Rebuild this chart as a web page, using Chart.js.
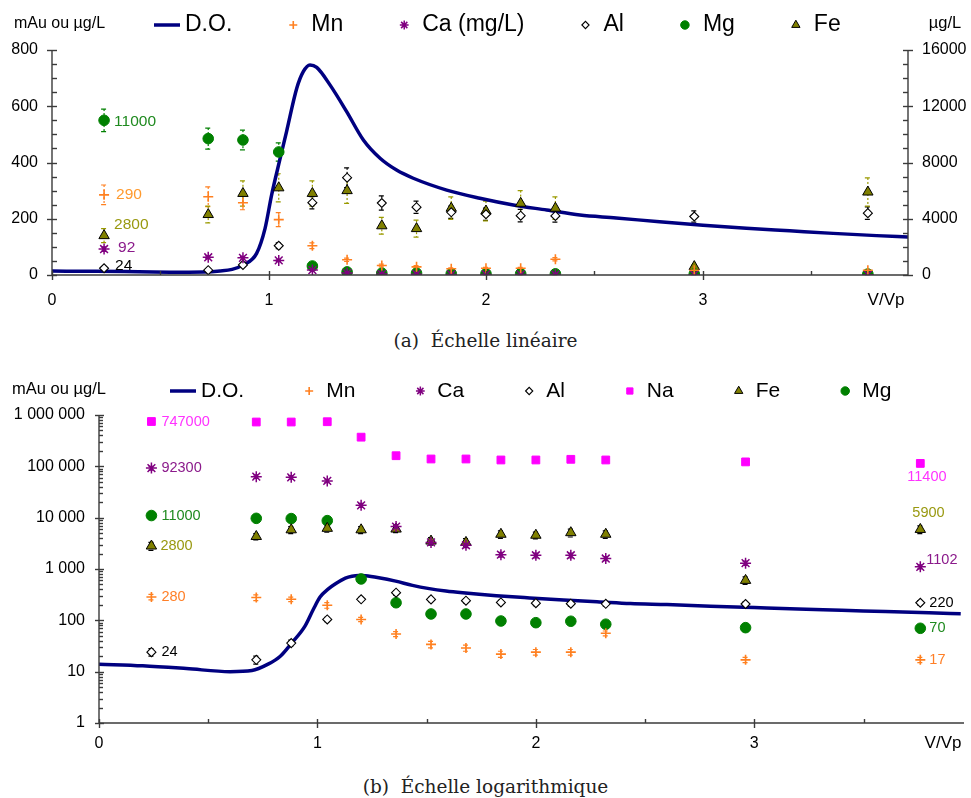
<!DOCTYPE html>
<html><head><meta charset="utf-8">
<script src="https://cdn.jsdelivr.net/npm/chart.js@4.4.0/dist/chart.umd.min.js"></script>
<style>
html,body{margin:0;padding:0;background:#fff;width:971px;height:798px;overflow:hidden;}
#w1{position:absolute;left:0;top:0;width:971px;height:310px;}
#w2{position:absolute;left:0;top:370px;width:971px;height:395px;}
.cap{position:absolute;left:0;width:971px;text-align:center;font-family:"DejaVu Serif",serif;font-size:18.5px;line-height:22px;color:#222;white-space:pre;}
</style></head><body>
<div id="w1"><canvas id="c1"></canvas></div>
<div class="cap" style="top:330px">(a)  Échelle linéaire</div>
<div id="w2"><canvas id="c2"></canvas></div>
<div class="cap" style="top:776px">(b)  Échelle logarithmique</div>
<script>
// ---------- DATA ----------
const vVp = [0.24, 0.72, 0.88, 1.045, 1.2, 1.36, 1.52, 1.68, 1.84, 2.0, 2.16, 2.32, 2.96, 3.76];
const mn = [285, 278, 257, 197, 104, 54, 34, 29, 22, 24, 24, 56, 17, 17];            // µg/L
const ca = [92300, 63000, 61000, 52000, 17400, 6700, 3300, 2900, 1900, 1850, 1850, 1600, 1300, 1102]; // µg/L
const al = [24, 17, 36, 104, 257, 346, 256, 241, 223, 216, 211, 210, 208, 220];       // µg/L
const mg = [11000, 9700, 9600, 8750, 640, 220, 133, 133, 97, 90, 96, 84, 72, 70];     // µg/L
const fe = [2800, 4300, 5800, 6200, 5800, 6000, 3500, 3300, 4750, 4550, 5100, 4750, 600, 5900]; // µg/L
const na = [747000, 730000, 730000, 740000, 370000, 161000, 139000, 139000, 133000, 133000, 137000, 133000, 122000, 114000]; // µg/L
// uncertainty (µg/L)
const mnErr = [35, 35, 25, 25, 10, 6, 5, 4, 3, 3, 3, 6, 2, 2];
const caErr = [8000, 5000, 5000, 4000, 1500, 600, 300, 300, 200, 200, 200, 150, 120, 100];
const alErr = [4, 3, 5, 10, 22, 35, 25, 22, 22, 22, 22, 22, 20, 22];
const mgErr = [800, 750, 700, 650, 60, 20, 12, 12, 9, 8, 9, 8, 7, 7];
const feErr = [500, 600, 900, 1000, 900, 900, 600, 600, 800, 700, 900, 800, 100, 1000];
// D.O. (mAu) absorbance trace
const doX = [0, 0.2, 0.4, 0.6, 0.7, 0.774, 0.83, 0.882, 0.943, 0.982, 1.012, 1.05, 1.081, 1.128, 1.158, 1.189, 1.22, 1.281, 1.358, 1.435, 1.512, 1.588, 1.665, 1.819, 1.972, 2.126, 2.28, 2.433, 2.6, 2.8, 3.0, 3.2, 3.4, 3.6, 3.8, 3.945];
const doY = [14, 13, 11.5, 10, 10.5, 14, 20, 36, 77, 166, 284, 410, 510, 664, 723, 747, 738, 676, 581, 480, 415, 373, 344, 302, 273, 249, 231, 213, 203, 189, 177, 166, 157, 148, 140, 135];
// tick labels
const xTickVals = [0, 1, 2, 3];
const logTickVals = [1, 10, 100, 1000, 10000, 100000, 1000000];

// ---------- helpers ----------
const H = Chart.helpers;
const SANS = '"Liberation Sans", Arial, sans-serif';
Chart.defaults.font.family = SANS;
Chart.defaults.color = '#000';
const pts = (ys, f) => vVp.map((x, i) => ({x, y: f ? ys[i] / f : ys[i]}));
const doPts = doX.map((x, i) => ({x, y: doY[i]}));
const fmtSpace = v => String(v).replace(/\B(?=(\d{3})+(?!\d))/g, ' ');

const C = {do:'#000080', mn:'#ff8020', ca:'#800080', al:'#000000', mg:'#008000', fe:'#808000', na:'#ff00ff'};

function doDs() {
  return {label:'D.O.', data:doPts, showLine:true, borderColor:C.do, backgroundColor:C.do, borderWidth:3.5,
          pointRadius:0, cubicInterpolationMode:'monotone', yAxisID:'y', order:10, isLine:true};
}
function mk(label, data, style, opts) {
  return Object.assign({label, data, pointStyle:style, showLine:false, order:1}, opts);
}

// ---------- plugins ----------
const errorBars = {
  id:'errorBars',
  beforeDatasetsDraw(chart) {
    const ctx = chart.ctx;
    chart.data.datasets.forEach((ds, di) => {
      if (!ds.errs) return;
      const meta = chart.getDatasetMeta(di);
      const ys = chart.scales[meta.yAxisID];
      ctx.save();
      ctx.strokeStyle = ds.errColor; ctx.lineWidth = 1.2;
      ds.data.forEach((p, i) => {
        const e = ds.errs[i]; if (!e) return;
        const el = meta.data[i];
        const x = el.x;
        const lo = Math.max(p.y - e, ys.min > 0 ? ys.min : 0.0001);
        const y1 = ys.getPixelForValue(p.y + e), y2 = ys.getPixelForValue(lo);
        ctx.setLineDash([2, 2]);
        ctx.beginPath(); ctx.moveTo(x, y1); ctx.lineTo(x, y2); ctx.stroke();
        ctx.setLineDash([]);
        ctx.beginPath();
        ctx.moveTo(x - 3, y1); ctx.lineTo(x + 2, y1);
        ctx.moveTo(x - 3, y2); ctx.lineTo(x + 2, y2);
        ctx.stroke();
      });
      ctx.restore();
    });
  }
};

const axisMarks = {
  id:'axisMarks',
  afterDraw(chart) {
    const o = chart.options.plugins.axisMarks;
    const ctx = chart.ctx, a = chart.chartArea;
    ctx.save();
    ctx.strokeStyle = '#3a3a3a'; ctx.lineWidth = 1.4;
    const ln = (x1, y1, x2, y2) => { ctx.beginPath(); ctx.moveTo(x1, y1); ctx.lineTo(x2, y2); ctx.stroke(); };
    const xs = chart.scales.x;
    ln(a.left, a.bottom, a.right, a.bottom);
    for (let v = 0; v <= xs.max; v += 1) { const p = Math.round(xs.getPixelForValue(v)) + 0.5; ln(p, a.bottom - 4, p, a.bottom + 5); }
    for (let v = 0.5; v <= xs.max; v += 1) { const p = Math.round(xs.getPixelForValue(v)) + 0.5; ln(p, a.bottom - 4, p, a.bottom); }
    const ys = chart.scales.y;
    ln(a.left, a.top, a.left, a.bottom);
    if (o.log) {
      for (let d = 1; d <= 1e6; d *= 10) {
        const p = Math.round(ys.getPixelForValue(d)) + 0.5; ln(a.left - 4, p, a.left + 5, p);
        if (d < 1e6) for (let k = 2; k <= 9; k++) { const q = Math.round(ys.getPixelForValue(d * k)) + 0.5; ln(a.left, q, a.left + 4, q); }
      }
    } else {
      for (let v = 0; v <= ys.max; v += o.yMinor) {
        const p = Math.round(ys.getPixelForValue(v)) + 0.5;
        if (v % o.yMajor === 0) ln(a.left - 5, p, a.left + 5, p); else ln(a.left, p, a.left + 5, p);
      }
    }
    if (chart.scales.y2) {
      const y2 = chart.scales.y2;
      ln(a.right, a.top, a.right, a.bottom);
      for (let v = 0; v <= y2.max; v += o.y2Minor) {
        const p = Math.round(y2.getPixelForValue(v)) + 0.5;
        if (v % o.y2Major === 0) ln(a.right - 5, p, a.right + 5, p); else ln(a.right - 5, p, a.right, p);
      }
    }
    // texts
    ctx.fillStyle = '#000'; ctx.textBaseline = 'middle';
    o.texts.forEach(t => { ctx.font = t.size + 'px ' + SANS; ctx.textAlign = t.align; ctx.fillText(t.text, t.x, t.y); });
    ctx.restore();
  }
};

const customLegend = {
  id:'customLegend',
  afterDraw(chart) {
    const o = chart.options.plugins.customLegend;
    const ctx = chart.ctx;
    ctx.save();
    ctx.font = o.size + 'px ' + SANS;
    ctx.textBaseline = 'middle'; ctx.textAlign = 'left';
    let end = o.x;
    chart.data.datasets.forEach((ds, di) => {
      if (ds.isLine) {
        ctx.strokeStyle = ds.borderColor; ctx.lineWidth = 3.5;
        ctx.beginPath(); ctx.moveTo(o.x, o.y); ctx.lineTo(o.x + 26, o.y); ctx.stroke();
        ctx.fillStyle = '#000';
        ctx.fillText(ds.label, o.x + 31, o.y);
        end = o.x + 31 + ctx.measureText(ds.label).width;
      } else {
        const cx = end + o.gap;
        ctx.fillStyle = ds.backgroundColor; ctx.strokeStyle = ds.borderColor; ctx.lineWidth = ds.borderWidth;
        H.drawPoint(ctx, {pointStyle: ds.pointStyle, radius: ds.pointRadius * 0.8, rotation: 0, borderWidth: ds.borderWidth}, cx, o.y);
        ctx.fillStyle = '#000';
        ctx.fillText(ds.label, cx + o.mgap, o.y);
        end = cx + o.mgap + ctx.measureText(ds.label).width;
      }
    });
    ctx.restore();
  }
};

const pointNotes = {
  id:'pointNotes',
  afterDatasetsDraw(chart) {
    const o = chart.options.plugins.pointNotes;
    const ctx = chart.ctx;
    ctx.save();
    ctx.font = o.size + 'px ' + SANS; ctx.textBaseline = 'middle';
    o.items.forEach(it => {
      const el = chart.getDatasetMeta(it.ds).data[it.i];
      ctx.fillStyle = it.color; ctx.textAlign = it.align || 'left';
      ctx.fillText(it.text, el.x + it.dx, el.y + it.dy);
    });
    ctx.restore();
  }
};

const noGrid = {display:false, drawTicks:false};
const tickFont = {size:16};

// ---------- chart (a) linear ----------
new Chart(document.getElementById('c1'), {
  type:'scatter',
  data:{datasets:[
    doDs(),
    mk('Mn', pts(mn), 'cross', {borderColor:C.mn, backgroundColor:C.mn, borderWidth:1.6, pointRadius:5, yAxisID:'y', errs:mnErr, errColor:C.mn}),
    mk('Ca (mg/L)', pts(ca, 1000), 'star', {borderColor:C.ca, backgroundColor:C.ca, borderWidth:1.5, pointRadius:5.5, yAxisID:'y', errs:caErr.map(e => e / 1000), errColor:C.ca}),
    mk('Al', pts(al), 'rectRot', {borderColor:'#000', backgroundColor:'#fff', borderWidth:1.1, pointRadius:4.5, yAxisID:'y', errs:alErr, errColor:'#000'}),
    mk('Mg', pts(mg), 'circle', {borderColor:C.mg, backgroundColor:C.mg, borderWidth:1, pointRadius:5.3, yAxisID:'y2', errs:mgErr, errColor:C.mg}),
    mk('Fe', pts(fe), 'triangle', {borderColor:'#000', backgroundColor:C.fe, borderWidth:1, pointRadius:6, yAxisID:'y2', errs:feErr, errColor:'#9a9a00'})
  ]},
  options:{
    responsive:true, maintainAspectRatio:false, animation:false, events:[],
    layout:{padding:{top:50, left:0, right:0, bottom:0}},
    scales:{
      x:{type:'linear', min:0, max:3.945, grid:noGrid, border:{display:false},
         afterBuildTicks:s => { s.ticks = xTickVals.map(v => ({value:v})); },
         afterFit:s => { s.height = 35; },
         ticks:{font:tickFont, padding:16, maxRotation:0, autoSkip:false, callback:v => String(v)}},
      y:{type:'linear', position:'left', min:0, max:800, grid:noGrid, border:{display:false},
         afterFit:s => { s.width = 52; },
         ticks:{font:tickFont, stepSize:200, padding:14, callback:v => String(v)}},
      y2:{type:'linear', position:'right', min:0, max:16000, grid:noGrid, border:{display:false},
         afterFit:s => { s.width = 63; },
         ticks:{font:tickFont, stepSize:4000, padding:14, callback:v => String(v)}}
    },
    plugins:{
      legend:{display:false}, tooltip:{enabled:false},
      axisMarks:{log:false, yMajor:200, yMinor:50, y2Major:4000, y2Minor:1000,
        texts:[{text:'mAu ou µg/L', x:14, y:24, size:16, align:'left'},
               {text:'µg/L', x:945, y:23, size:16.5, align:'center'},
               {text:'V/Vp', x:886, y:300, size:17, align:'center'}]},
      customLegend:{x:154, y:25, size:23, gap:61, mgap:18},
      pointNotes:{size:15.5, items:[
        {ds:4, i:0, text:'11000', dx:10, dy:1, color:'#1f8a1f'},
        {ds:1, i:0, text:'290', dx:12, dy:0, color:'#ff9a2e'},
        {ds:5, i:0, text:'2800', dx:10, dy:-11, color:'#999910'},
        {ds:2, i:0, text:'92', dx:14, dy:-1, color:'#8b1a8b'},
        {ds:3, i:0, text:'24', dx:11, dy:-3, color:'#000'}
      ]}
    }
  },
  plugins:[errorBars, axisMarks, customLegend, pointNotes]
});

// ---------- chart (b) logarithmic ----------
new Chart(document.getElementById('c2'), {
  type:'scatter',
  data:{datasets:[
    doDs(),
    mk('Mn', pts(mn), 'cross', {borderColor:C.mn, backgroundColor:C.mn, borderWidth:1.6, pointRadius:5, yAxisID:'y', errs:mnErr, errColor:C.mn}),
    mk('Ca', pts(ca), 'star', {borderColor:C.ca, backgroundColor:C.ca, borderWidth:1.5, pointRadius:5.5, yAxisID:'y', errs:caErr, errColor:C.ca}),
    mk('Al', pts(al), 'rectRot', {borderColor:'#000', backgroundColor:'#fff', borderWidth:1.1, pointRadius:4.5, yAxisID:'y', errs:alErr, errColor:'#000'}),
    mk('Na', pts(na), 'rect', {borderColor:C.na, backgroundColor:C.na, borderWidth:1, pointRadius:5.5, yAxisID:'y'}),
    mk('Fe', pts(fe), 'triangle', {borderColor:'#000', backgroundColor:C.fe, borderWidth:1, pointRadius:6, yAxisID:'y', errs:feErr, errColor:'#000'}),
    mk('Mg', pts(mg), 'circle', {borderColor:C.mg, backgroundColor:C.mg, borderWidth:1, pointRadius:5.3, yAxisID:'y'})
  ]},
  options:{
    responsive:true, maintainAspectRatio:false, animation:false, events:[],
    layout:{padding:{top:45, left:0, right:3, bottom:0}},
    scales:{
      x:{type:'linear', min:0, max:3.96, grid:noGrid, border:{display:false},
         afterBuildTicks:s => { s.ticks = xTickVals.map(v => ({value:v})); },
         afterFit:s => { s.height = 42; },
         ticks:{font:tickFont, padding:11, maxRotation:0, autoSkip:false, callback:v => String(v)}},
      y:{type:'logarithmic', position:'left', min:1, max:1000000, grid:noGrid, border:{display:false},
         afterBuildTicks:s => { s.ticks = logTickVals.map(v => ({value:v})); },
         afterFit:s => { s.width = 99; },
         ticks:{font:tickFont, padding:14, autoSkip:false, callback:v => fmtSpace(v)}}
    },
    plugins:{
      legend:{display:false}, tooltip:{enabled:false},
      axisMarks:{log:true,
        texts:[{text:'mAu ou µg/L', x:12, y:19, size:16.5, align:'left'},
               {text:'V/Vp', x:943, y:373, size:17, align:'center'}]},
      customLegend:{x:170, y:21, size:21, gap:65, mgap:17},
      pointNotes:{size:14.5, items:[
        {ds:4, i:0, text:'747000', dx:10, dy:0, color:'#ff33ff'},
        {ds:2, i:0, text:'92300', dx:10, dy:0, color:'#8b1a8b'},
        {ds:6, i:0, text:'11000', dx:10, dy:0, color:'#1f8a1f'},
        {ds:5, i:0, text:'2800', dx:9, dy:0, color:'#999910'},
        {ds:1, i:0, text:'280', dx:10, dy:0, color:'#ff7f27'},
        {ds:3, i:0, text:'24', dx:10, dy:0, color:'#000'},
        {ds:4, i:13, text:'11400', dx:-13, dy:14, color:'#ff33ff'},
        {ds:5, i:13, text:'5900', dx:-8, dy:-16, color:'#999910'},
        {ds:2, i:13, text:'1102', dx:6, dy:-7, color:'#8b1a8b'},
        {ds:3, i:13, text:'220', dx:9, dy:0, color:'#000'},
        {ds:6, i:13, text:'70', dx:9, dy:0, color:'#1f8a1f'},
        {ds:1, i:13, text:'17', dx:9, dy:0, color:'#ff7f27'}
      ]}
    }
  },
  plugins:[errorBars, axisMarks, customLegend, pointNotes]
});
</script>
</body></html>
